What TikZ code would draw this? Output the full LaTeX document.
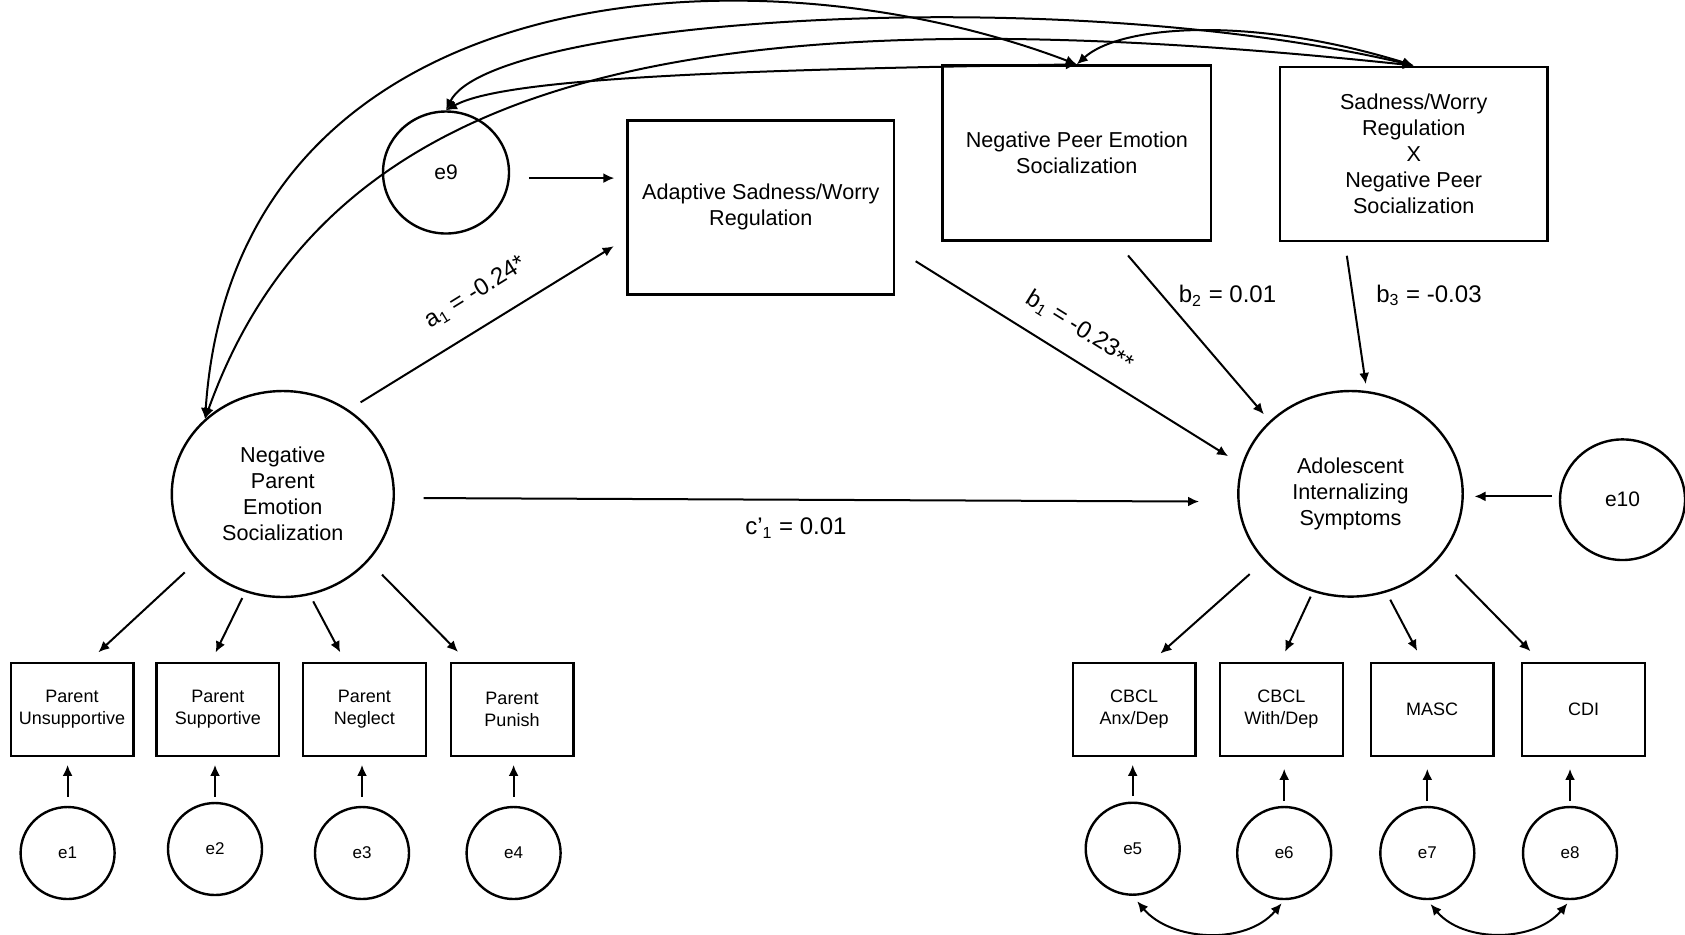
\documentclass[tikz,border=0pt]{standalone}
\usepackage{fontspec}
\setmainfont{Liberation Sans}
\usetikzlibrary{shapes.geometric,arrows.meta,positioning,calc}

\tikzset{
  latent/.style={draw,ellipse,line width=1.2pt,align=center,inner sep=0pt,
    minimum width=111pt,minimum height=103pt,font=\fontsize{10.8}{13}\selectfont},
  obsbox/.style={draw,rectangle,line width=1.2pt,align=center,inner sep=0pt,
    minimum width=134pt,minimum height=87pt,font=\fontsize{10.8}{13}\selectfont},
  indbox/.style={draw,rectangle,line width=1.2pt,align=center,inner sep=0pt,
    minimum width=61.3pt,minimum height=46.5pt,font=\fontsize{9}{10.8}\selectfont},
  errc/.style={draw,ellipse,line width=1.2pt,inner sep=0pt,
    minimum width=47pt,minimum height=46pt,font=\fontsize{8.5}{10}\selectfont},
  bigerr/.style={draw,ellipse,line width=1.2pt,inner sep=0pt,
    minimum width=63pt,minimum height=61pt,font=\fontsize{10.5}{12}\selectfont},
  arr/.style={-{Latex[length=5.5pt,width=5pt]},line width=1pt},
  cov/.style={{Latex[length=5.5pt,width=5pt]}-{Latex[length=5.5pt,width=5pt]},line width=1pt},
  lbl/.style={inner sep=0pt,font=\fontsize{12}{14}\selectfont}
}

\begin{document}
\begin{tikzpicture}[x=0.5pt,y=-0.5pt]
  \useasboundingbox (0,0) rectangle (1685,934);
  % Latent variables and mediators
  \node[latent] (npes) at (282.8,494) {Negative\\Parent\\Emotion\\Socialization};
  \node[latent,minimum width=112.2pt,minimum height=102.8pt] (ais) at (1350.5,493.8) {Adolescent\\Internalizing\\Symptoms};
  \node[obsbox,minimum width=133.3pt] (asw) at (760.8,207.4) {Adaptive Sadness/Worry\\Regulation};
  \node[obsbox,minimum width=134.4pt,minimum height=87.5pt] (npeer) at (1076.8,153.1) {Negative Peer Emotion\\Socialization};
  \node[obsbox,minimum width=133.8pt] (inter) at (1413.7,153.7) {Sadness/Worry\\Regulation\\X\\Negative Peer\\Socialization};
  \node[bigerr] (e9) at (446,172.5) {e9};
  \node[bigerr,minimum width=62.5pt,minimum height=60.3pt] (e10) at (1622.5,499.7) {e10};
  % Parent indicators
  \node[indbox] (pbox1) at (72,709.2) {Parent\\Unsupportive};
  \node[indbox] (pbox2) at (217.9,709.2) {Parent\\Supportive};
  \node[indbox] (pbox3) at (364.4,709.2) {Parent\\Neglect};
  \node[indbox] (pbox4) at (512,709.2) {Parent\\Punish};
  \node[errc] (e1) at (67.6,853) {e1};
  \node[errc] (e2) at (215,849) {e2};
  \node[errc] (e3) at (362,853) {e3};
  \node[errc] (e4) at (513.6,853) {e4};
  % Adolescent indicators
  \node[indbox] (cbox1) at (1134.1,709.2) {CBCL\\Anx/Dep};
  \node[indbox] (cbox2) at (1281.4,709.2) {CBCL\\With/Dep};
  \node[indbox] (cbox3) at (1432,709.2) {MASC};
  \node[indbox] (cbox4) at (1583.5,709.2) {CDI};
  \node[errc] (e5) at (1132.7,848.7) {e5};
  \node[errc] (e6) at (1284.2,853) {e6};
  \node[errc] (e7) at (1427.3,853) {e7};
  \node[errc] (e8) at (1570,853) {e8};
  % Structural paths
  \draw[arr,shorten <=9.5pt,shorten >=6pt] (e9.-5) -- (e9.-5 -| asw.west);
  \draw[arr,shorten <=7pt,shorten >=7.4pt] (npes.52) -- (asw.193.5)
    node[lbl,sloped,pos=.52,above=11pt] (la1) {a\textsubscript{1} = -0.24*};
  \draw[arr,shorten <=12pt,shorten >=8pt] (asw.-17.9) -- (ais.165.5)
    node[lbl,sloped,pos=.49,above=8.5pt] (lb1) {b\textsubscript{1} = -0.23\raisebox{-0.4ex}{**}};
  \draw[arr,shorten <=9pt,shorten >=4.4pt] (npeer.-66.8) -- (ais.138.5)
    node[lbl,pos=.3,right=7.8pt] (lb2) {b\textsubscript{2} = 0.01};
  \draw[arr,shorten <=7pt,shorten >=3.5pt] (inter.232.8) -- (ais.81.5)
    node[lbl,pos=.36,right=11.3pt] (lb3) {b\textsubscript{3} = -0.03};
  \draw[arr,shorten <=14.3pt,shorten >=19.2pt] (npes.-2) -- (ais.184)
    node[lbl,pos=.476,below=8.5pt] (lc1) {c’\textsubscript{1} = 0.01};
  \draw[arr,shorten <=3.4pt,shorten >=5.3pt] (e10.177) -- (e10.177 -| ais.east);
  % Measurement paths
  \draw[arr,shorten <=8.3pt,shorten >=6.8pt] (npes.218.9) -- (pbox1.71.2);
  \draw[arr,shorten <=3.3pt,shorten >=5pt] (npes.249.1) -- (pbox2.98.7);
  \draw[arr,shorten <=3.5pt,shorten >=5.2pt] (npes.-75.4) -- (pbox3.112.4);
  \draw[arr,shorten <=9.5pt,shorten >=6.8pt] (npes.-38) -- (pbox4.133.6);
  \draw[arr,shorten <=9.7pt,shorten >=6pt] (ais.218.1) -- (cbox1.70.1);
  \draw[arr,shorten <=2.6pt,shorten >=5.4pt] (ais.249.7) -- (cbox2.91.2);
  \draw[arr,shorten <=4.1pt,shorten >=6pt] (ais.-70.3) -- (cbox3.101.3);
  \draw[arr,shorten <=11.5pt,shorten >=7.2pt] (ais.-36.3) -- (cbox4.132.4);
  % Error terms
  \draw[arr,shorten <=4.5pt,shorten >=4pt] (e1.north) -- (e1.north |- pbox1.south);
  \draw[arr,shorten <=2.5pt,shorten >=4pt] (e2.north) -- (e2.north |- pbox2.south);
  \draw[arr,shorten <=4.5pt,shorten >=4pt] (e3.north) -- (e3.north |- pbox3.south);
  \draw[arr,shorten <=4.5pt,shorten >=4pt] (e4.north) -- (e4.north |- pbox4.south);
  \draw[arr,shorten <=2.7pt,shorten >=4pt] (e5.north) -- (e5.north |- cbox1.south);
  \draw[arr,shorten <=2.4pt,shorten >=6pt] (e6.north) -- (e6.north |- cbox2.south);
  \draw[arr,shorten <=2.4pt,shorten >=6pt] (e7.north) -- (e7.north |- cbox3.south);
  \draw[arr,shorten <=2.4pt,shorten >=6pt] (e8.north) -- (e8.north |- cbox4.south);
  % Covariances
  \draw[cov,shorten <=3.5pt,shorten >=2pt] (e5.south) to[out=-50,in=-130] (e6.south);
  \draw[cov,shorten <=2.5pt,shorten >=2pt] (e7.south) to[out=-50,in=-130] (e8.south);
  \draw[cov] (npes.136) .. controls (235,-25) and (750,-60) .. (npeer.north);
  \draw[cov] (npes.136) .. controls (330,70) and (700,-10) .. (inter.north);
  \draw[cov] (e9.north) .. controls (490,20) and (1050,-20) .. (inter.north);
  \draw[cov] (e9.north) .. controls (500,80) and (700,70) .. (npeer.north);
  \draw[cov] (npeer.north) .. controls (1120,25) and (1250,15) .. (inter.north);
\end{tikzpicture}
\end{document}
